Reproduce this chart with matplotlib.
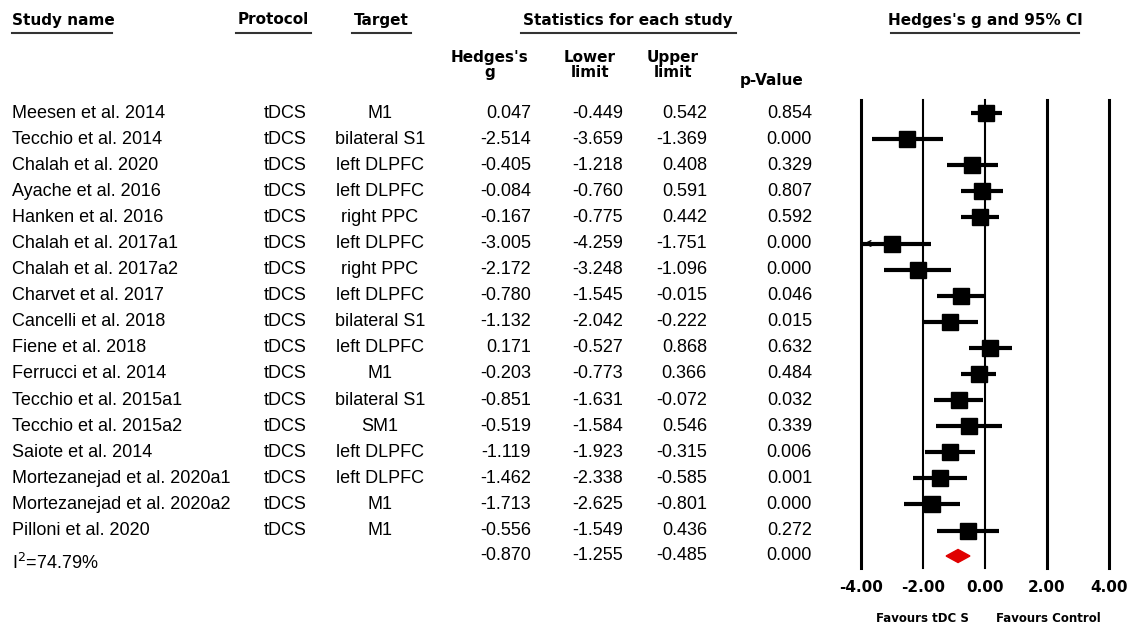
import matplotlib.pyplot as plt
from matplotlib.patches import Polygon

# Study level data
studies = ['Meesen et al. 2014', 'Tecchio et al. 2014', 'Chalah et al. 2020', 'Ayache et al. 2016',
           'Hanken et al. 2016', 'Chalah et al. 2017a1', 'Chalah et al. 2017a2', 'Charvet et al. 2017',
           'Cancelli et al. 2018', 'Fiene et al. 2018', 'Ferrucci et al. 2014', 'Tecchio et al. 2015a1',
           'Tecchio et al. 2015a2', 'Saiote et al. 2014', 'Mortezanejad et al. 2020a1',
           'Mortezanejad et al. 2020a2', 'Pilloni et al. 2020']
protocols = ['tDCS'] * 17
targets = ['M1', 'bilateral S1', 'left DLPFC', 'left DLPFC', 'right PPC', 'left DLPFC', 'right PPC',
           'left DLPFC', 'bilateral S1', 'left DLPFC', 'M1', 'bilateral S1', 'SM1', 'left DLPFC',
           'left DLPFC', 'M1', 'M1']
hedges_g = [0.047, -2.514, -0.405, -0.084, -0.167, -3.005, -2.172, -0.780, -1.132, 0.171,
            -0.203, -0.851, -0.519, -1.119, -1.462, -1.713, -0.556]
lower = [-0.449, -3.659, -1.218, -0.760, -0.775, -4.259, -3.248, -1.545, -2.042, -0.527,
         -0.773, -1.631, -1.584, -1.923, -2.338, -2.625, -1.549]
upper = [0.542, -1.369, 0.408, 0.591, 0.442, -1.751, -1.096, -0.015, -0.222, 0.868,
         0.366, -0.072, 0.546, -0.315, -0.585, -0.801, 0.436]
p_values = [0.854, 0.000, 0.329, 0.807, 0.592, 0.000, 0.000, 0.046, 0.015, 0.632,
            0.484, 0.032, 0.339, 0.006, 0.001, 0.000, 0.272]
pooled = [-0.870, -1.255, -0.485, 0.000]
i_squared = 74.79
x_ticks = [-4, -2, 0, 2, 4]

W, H = 1127, 628
fig = plt.figure(figsize=(W / 100, H / 100), dpi=100)
plt.rcParams['font.family'] = ['Liberation Sans', 'DejaVu Sans']

# text layer in pixel coordinates
tax = fig.add_axes([0, 0, 1, 1])
tax.set_xlim(0, W)
tax.set_ylim(H, 0)
tax.axis('off')

row0, step = 113, 26.1
def row_y(i):
    return row0 + step * i

fs = 13
hfs = 11
bold = dict(fontsize=hfs, fontweight='bold', family='DejaVu Sans')

# headers with underlines
headers = [('Study name', 12, 'left', 12, 112), ('Protocol', 273, 'center', 236, 311),
           ('Target', 381, 'center', 352, 411), ('Statistics for each study', 628, 'center', 521, 736),
           ('Hedges\'s g and 95% CI', 985, 'center', 891, 1079)]
for txt, x, ha, x0, x1 in headers:
    tax.text(x, 20, txt, ha=ha, va='center', **bold)
    tax.plot([x0, x1], [33, 33], color='#333333', lw=1.5)

tax.text(490, 65, 'Hedges\'s\ng', ha='center', va='center', linespacing=1.05, **bold)
tax.text(590, 65, 'Lower\nlimit', ha='center', va='center', linespacing=1.05, **bold)
tax.text(673, 65, 'Upper\nlimit', ha='center', va='center', linespacing=1.05, **bold)
tax.text(772, 80, 'p-Value', ha='center', va='center', **bold)

for i, name in enumerate(studies):
    y = row_y(i)
    tax.text(12, y, name, ha='left', va='center', fontsize=fs)
    tax.text(285, y, protocols[i], ha='center', va='center', fontsize=fs)
    tax.text(380, y, targets[i], ha='center', va='center', fontsize=fs)
    tax.text(531, y, f'{hedges_g[i]:.3f}', ha='right', va='center', fontsize=fs)
    tax.text(623, y, f'{lower[i]:.3f}', ha='right', va='center', fontsize=fs)
    tax.text(707, y, f'{upper[i]:.3f}', ha='right', va='center', fontsize=fs)
    tax.text(812, y, f'{p_values[i]:.3f}', ha='right', va='center', fontsize=fs)

ys = 556
tax.text(12, 563, f'I$^2$={i_squared:.2f}%', ha='left', va='center', fontsize=fs)
tax.text(531, ys, f'{pooled[0]:.3f}', ha='right', va='center', fontsize=fs)
tax.text(623, ys, f'{pooled[1]:.3f}', ha='right', va='center', fontsize=fs)
tax.text(707, ys, f'{pooled[2]:.3f}', ha='right', va='center', fontsize=fs)
tax.text(812, ys, f'{pooled[3]:.3f}', ha='right', va='center', fontsize=fs)

fav = dict(fontsize=8.5, fontweight='bold', family='DejaVu Sans', ha='center', va='center')
tax.text(922, 619, 'Favours tDC S', **fav)
tax.text(1048, 619, 'Favours Control', **fav)

# forest plot axes
top_px, bot_px = 100, 568
left_px, right_px = 861, 1109
ax = fig.add_axes([left_px / W, 1 - bot_px / H, (right_px - left_px) / W, (bot_px - top_px) / H])
ax.patch.set_alpha(0)
ax.set_xlim(-4, 4)
ax.set_ylim((bot_px - row0) / step, (top_px - row0) / step)
for s in ax.spines.values():
    s.set_visible(False)
for t, lw in zip(x_ticks, [2.2, 1.5, 1.5, 2.2, 2.2]):
    ax.axvline(t, color='black', lw=lw, clip_on=False)
ax.set_yticks([])
ax.set_xticks(x_ticks)
ax.set_xticklabels([f'{t:.2f}' for t in x_ticks], fontsize=11, fontweight='bold', family='DejaVu Sans')
ax.tick_params(axis='x', length=0, pad=9)

summary_row = (ys - row0) / step
for i in range(len(studies)):
    lo = max(lower[i], -4)
    hi = min(upper[i], 4)
    ax.plot([lo, hi], [i, i], color='black', lw=3, solid_capstyle='butt', clip_on=False)
    ax.plot(hedges_g[i], i, marker='s', color='black', markersize=11, clip_on=False)
    if lower[i] < -4:
        ax.annotate('', xy=(-4, i), xytext=(-3.7, i),
                    arrowprops=dict(arrowstyle='->', color='black', lw=1))

d = 0.25
ax.add_patch(Polygon([[pooled[1], summary_row], [pooled[0], summary_row - d],
                      [pooled[2], summary_row], [pooled[0], summary_row + d]],
                     closed=True, color='#e00000'))

fig.savefig('out.png', dpi=100)
